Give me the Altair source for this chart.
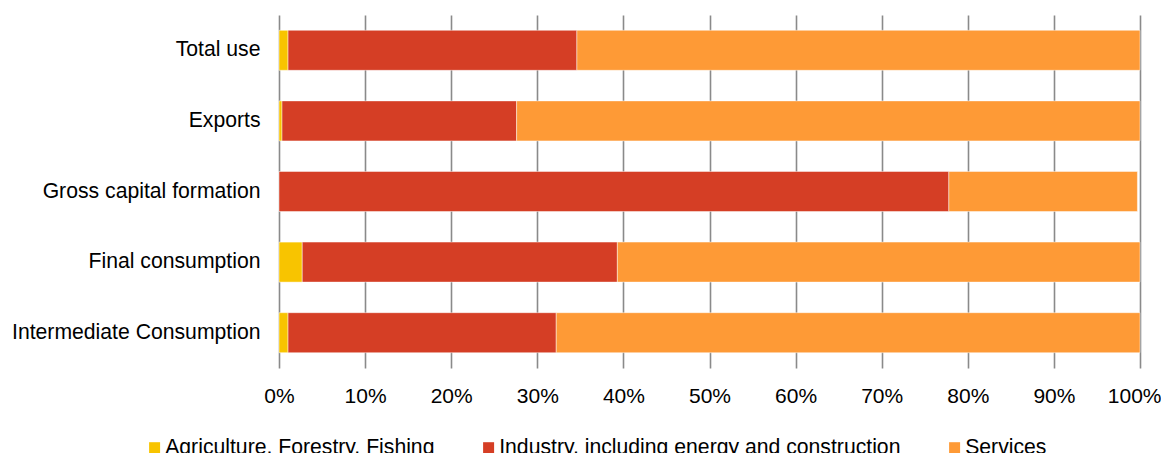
import altair as alt
import pandas as pd

categories = ["Total use", "Exports", "Gross capital formation", "Final consumption", "Intermediate Consumption"]
sectors = ["Agriculture, Forestry, Fishing", "Industry, including energy and construction", "Services"]
agriculture = [0.0105, 0.0035, 0.0000, 0.0270, 0.0105]
industry = [0.3355, 0.2725, 0.7780, 0.3660, 0.3115]
services = [0.6540, 0.7240, 0.2190, 0.6070, 0.6780]
tick_values = [0, 0.1, 0.2, 0.3, 0.4, 0.5, 0.6, 0.7, 0.8, 0.9, 1.0]
colors = ["#F8C400", "#D53E25", "#FE9A36"]

rows = []
for i, c in enumerate(categories):
    for j, (s, vals) in enumerate(zip(sectors, [agriculture, industry, services])):
        rows.append({"category": c, "sector": s, "order": j, "value": vals[i]})
df = pd.DataFrame(rows)

chart = alt.Chart(df).mark_bar(stroke="white", strokeOpacity=0.45, strokeWidth=1).encode(
    x=alt.X("value:Q", stack="zero",
            scale=alt.Scale(domain=[0, 1], nice=False, zero=True),
            axis=alt.Axis(values=tick_values, format=".0%", title=None, grid=True,
                          gridColor="#8a8a8a", gridWidth=1.6, domain=False, ticks=False,
                          labelFlush=False, labelOverlap=False,
                          labelAlign={"condition": {"test": "datum.value >= 1", "value": "right"}, "value": "center"},
                          labelOffset={"condition": {"test": "datum.value >= 1", "value": 21}, "value": 0},
                          labelPadding=17, labelFontSize=21, labelColor="#000000",
                          labelFont="Liberation Sans")),
    y=alt.Y("category:N", sort=categories,
            scale=alt.Scale(paddingInner=0.4334, paddingOuter=0.2167),
            axis=alt.Axis(title=None, ticks=False, domain=False, labelPadding=19,
                          minExtent=271, maxExtent=271, labelFontSize=21.2,
                          labelColor="#000000", labelLimit=400,
                          labelFont="Liberation Sans")),
    color=alt.Color("sector:N", sort=sectors,
                    scale=alt.Scale(domain=sectors, range=colors),
                    legend=alt.Legend(title=None, orient="none", legendX=-135, legendY=422,
                                      direction="horizontal", columns=3, columnPadding=43,
                                      padding=0,
                                      symbolType="square", symbolSize=121, symbolStrokeWidth=0,
                                      labelFontSize=21.2, labelFont="Liberation Sans",
                                      labelColor="#000000", labelLimit=600, labelOffset=0)),
    order=alt.Order("order:Q"),
).properties(
    width=861, height=353,
    padding={"left": 0, "top": 7, "right": 0, "bottom": 0},
).configure_view(strokeWidth=0)

chart.save("out.html", embed_options={"renderer": "svg", "actions": False})
